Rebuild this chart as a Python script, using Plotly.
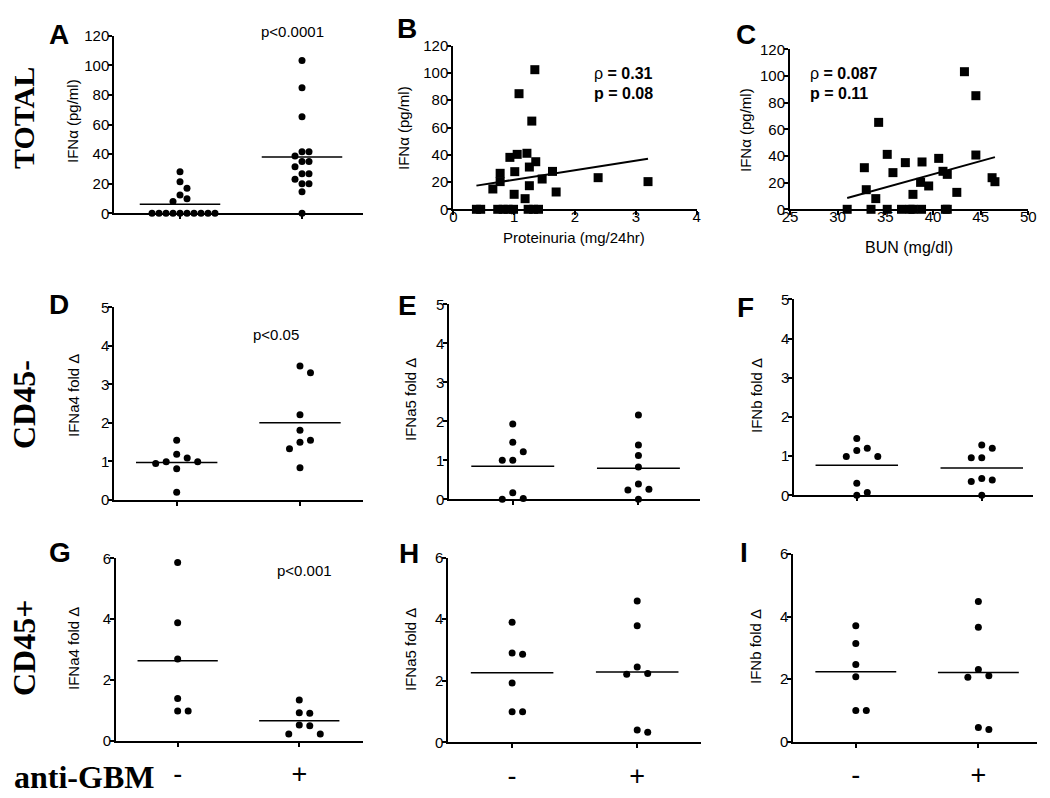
import numpy as np
import plotly.graph_objects as go

# The page body has an 8 px margin, so the figure is 16 px smaller than the window
OFF = 8
W, H = 1050 - 2 * OFF, 798 - 2 * OFF
SANS = "Liberation Sans, Arial, sans-serif"
SERIF = "Liberation Serif, Times New Roman, serif"

# ---------------- data ----------------
groups = ["-", "+"]

# Panel A : total IFN-alpha (pg/ml)
a_neg = [28.1, 21.4, 16.9, 12.4, 9.8, 7.9, 0, 0, 0, 0, 0, 0, 0, 0, 0, 0]
a_pos = [103.2, 84.9, 65.3, 41.6, 41.6, 38.7, 35.0, 35.0, 31.5, 26.8, 26.8, 23.0, 20.0, 20.0, 14.6, 0]

# Panel B : proteinuria vs IFN-alpha
prot_x = [1.34, 1.08, 1.29, 0.93, 1.05, 1.21, 1.355, 1.25, 1.01, 0.77, 1.63, 1.46, 0.77, 0.65,
          1.25, 1.00, 1.18, 1.69, 2.38, 3.20, 0.38, 0.45, 0.73, 0.82, 0.90, 0.99, 1.23, 1.32, 1.40]
prot_y = [102.4, 84.8, 64.7, 38.1, 40.3, 41.1, 34.9, 31.0, 27.6, 26.4, 27.8, 22.2, 20.3, 14.9,
          17.3, 11.0, 7.8, 12.7, 23.2, 20.3, 0, 0, 0, 0, 0, 0, 0, 0, 0]

# Panel C : BUN vs IFN-alpha
bun_x = [43.3, 44.5, 34.3, 35.2, 32.8, 37.1, 38.85, 40.6, 44.5, 35.8, 41.05, 41.5, 38.7, 39.55,
         33.0, 37.9, 34.0, 42.5, 46.2, 46.5, 31.0, 33.5, 35.2, 36.7, 37.6, 37.9, 38.8, 41.3, 41.5]
bun_y = [103.2, 85.2, 65.2, 41.2, 31.2, 35.0, 35.5, 38.2, 40.7, 27.5, 28.5, 26.2, 20.2, 17.5,
         14.7, 11.2, 8.0, 12.7, 23.7, 20.7, 0, 0, 0, 0, 0, 0, 0, 0, 0]

# CD45- fold changes
d_neg = [1.55, 1.19, 1.09, 0.99, 0.99, 0.95, 0.81, 0.20]
d_pos = [3.48, 3.30, 2.21, 1.81, 1.55, 1.50, 1.33, 0.84]
e_neg = [1.93, 1.46, 1.22, 1.00, 1.00, 0.17, 0.02, 0.00]
e_pos = [2.16, 1.39, 1.12, 0.83, 0.39, 0.26, 0.24, 0.00]
f_neg = [1.45, 1.20, 1.14, 0.99, 0.99, 0.31, 0.07, 0.00]
f_pos = [1.28, 1.20, 0.96, 0.96, 0.43, 0.39, 0.35, 0.00]

# CD45+ fold changes
g_neg = [5.86, 3.88, 2.69, 1.39, 0.98, 0.98]
g_pos = [1.34, 0.92, 0.90, 0.52, 0.49, 0.22, 0.22]
h_neg = [3.90, 2.90, 2.86, 1.93, 0.99, 0.99]
h_pos = [4.59, 3.79, 2.45, 2.24, 2.21, 0.40, 0.33]
i_neg = [3.71, 3.14, 2.47, 2.08, 1.00, 1.00]
i_pos = [4.48, 3.66, 2.31, 2.11, 2.06, 0.45, 0.39]

# ---------------- helpers ----------------
fig = go.Figure()


def fx(px):
    return (px - OFF) / W


def fy(py):
    return 1 - (py - OFF) / H


def ax_names(i):
    return ("x" if i == 1 else f"x{i}"), ("y" if i == 1 else f"y{i}")


def setup_axes(i, xpx, ypx, xr, yr, xtv, xtt, ytv, xlabfont=15, xstand=-11):
    xn, yn = ax_names(i)
    common = dict(showline=True, linewidth=2, linecolor="black", ticks="outside",
                  ticklen=4, tickwidth=2, tickcolor="black", showgrid=False,
                  zeroline=False, fixedrange=True, automargin=False)
    xa = dict(domain=[fx(xpx[0]), fx(xpx[1])], range=xr, anchor=yn,
              tickvals=xtv, ticktext=xtt, ticklabelstandoff=xstand,
              tickfont=dict(family=SANS, size=xlabfont, color="black"), **common)
    ya = dict(domain=[fy(ypx[1]), fy(ypx[0])], range=yr, anchor=xn,
              tickvals=ytv, ticklabelstandoff=-4,
              tickfont=dict(family=SANS, size=15, color="black"), **common)
    fig.layout["xaxis" if i == 1 else f"xaxis{i}"] = xa
    fig.layout["yaxis" if i == 1 else f"yaxis{i}"] = ya
    return (xpx[1] - xpx[0]) / (xr[1] - xr[0]), (ypx[1] - ypx[0]) / (yr[1] - yr[0])


def swarm(vals, ppy, ppx, step):
    order = sorted(range(len(vals)), key=lambda k: -vals[k])
    placed, offs = [], [0.0] * len(vals)
    cands = [0] + [s * j for j in range(1, 30) for s in (1, -1)]
    for k in order:
        yv = vals[k] * ppy
        for c in cands:
            xv = c * step
            if all((xv - px) ** 2 + (yv - py) ** 2 >= (step * 0.999) ** 2 for px, py in placed):
                break
        placed.append((xv, yv))
        offs[k] = xv / ppx
    return offs


def dot_panel(i, xpx, ypx, xr, yr, ytv, neg, pos, step=10.5, bottom=False):
    if bottom:
        ppx, ppy = setup_axes(i, xpx, ypx, xr, yr, [1, 2], groups, ytv, xlabfont=27, xstand=4)
    else:
        ppx, ppy = setup_axes(i, xpx, ypx, xr, yr, [1, 2], ["", ""], ytv)
    xn, yn = ax_names(i)
    for c, vals in ((1, neg), (2, pos)):
        offs = swarm(vals, ppy, ppx, step)
        fig.add_trace(go.Scatter(x=[c + o for o in offs], y=vals, mode="markers",
                                 marker=dict(symbol="circle", size=7, color="black"),
                                 xaxis=xn, yaxis=yn, cliponaxis=False, hoverinfo="skip"))
        m = float(np.mean(vals))
        fig.add_trace(go.Scatter(x=[c - 0.33, c + 0.33], y=[m, m], mode="lines",
                                 line=dict(color="black", width=1.5),
                                 xaxis=xn, yaxis=yn, cliponaxis=False, hoverinfo="skip"))


def corr_panel(i, xpx, ypx, xr, xtv, xs, ys):
    setup_axes(i, xpx, ypx, xr, [0, 120], xtv, [str(v) for v in xtv], list(range(0, 121, 20)))
    xn, yn = ax_names(i)
    fig.add_trace(go.Scatter(x=xs, y=ys, mode="markers",
                             marker=dict(symbol="square", size=9, color="black"),
                             xaxis=xn, yaxis=yn, cliponaxis=False, hoverinfo="skip"))
    sl, ic = np.polyfit(xs, ys, 1)
    lx = [min(xs), max(xs)]
    fig.add_trace(go.Scatter(x=lx, y=[sl * v + ic for v in lx], mode="lines",
                             line=dict(color="black", width=2),
                             xaxis=xn, yaxis=yn, cliponaxis=False, hoverinfo="skip"))


# ---------------- panels (positions in window pixels) ----------------
tA = list(range(0, 121, 20))
dot_panel(1, (114.3, 363), (35.7, 213.3), [0.4615, 2.5], [0, 120], tA, a_neg, a_pos, step=7)
corr_panel(2, (453.3, 696.7), (45.7, 209.3), [0, 4], [0, 1, 2, 3, 4], prot_x, prot_y)
corr_panel(3, (790, 1028.3), (49.3, 209.3), [25, 50], [25, 30, 35, 40, 45, 50], bun_x, bun_y)

t5 = [0, 1, 2, 3, 4, 5]
dot_panel(4, (114.3, 363), (307.3, 500), [0.494, 2.511], [0, 5], t5, d_neg, d_pos)
dot_panel(5, (449.3, 700), (304.3, 499.3), [0.495, 2.49], [0, 5], t5, e_neg, e_pos)
dot_panel(6, (794.3, 1033), (299.3, 495.3), [0.5, 2.41], [0, 5], t5, f_neg, f_pos)

t6 = [0, 2, 4, 6]
dot_panel(7, (116, 363), (558.3, 740.7), [0.493, 2.524], [0, 6], t6, g_neg, g_pos, bottom=True)
dot_panel(8, (448.3, 701), (557.7, 742.3), [0.49, 2.51], [0, 6], t6, h_neg, h_pos, bottom=True)
dot_panel(9, (793.3, 1036.7), (554, 741.7), [0.49, 2.476], [0, 6], t6, i_neg, i_pos, bottom=True)

# ---------------- text ----------------
ann = []


def txt(x, y, s, size=15, family=SANS, weight="normal", angle=0, xanchor="center"):
    ann.append(dict(x=fx(x), y=fy(y), xref="paper", yref="paper", text=s, showarrow=False,
                    xanchor=xanchor, yanchor="middle", textangle=angle,
                    font=dict(family=family, size=size, color="black", weight=weight)))


letters = [("A", 58.5, 35), ("B", 406.5, 29), ("C", 746, 34), ("D", 58.5, 304),
           ("E", 407, 305), ("F", 745, 308), ("G", 59.5, 552), ("H", 409, 553), ("I", 744, 552)]
for s, x, y in letters:
    txt(x, y, s, size=28, weight="bold")

txt(24, 118, "TOTAL", size=30, family=SERIF, weight="bold", angle=-90)
txt(24, 405, "CD45-", size=32, family=SERIF, weight="bold", angle=-90)
txt(24, 648, "CD45+", size=32, family=SERIF, weight="bold", angle=-90)
txt(84, 777, "anti-GBM", size=32, family=SERIF, weight="bold")

ytitles = [("IFNα (pg/ml)", 73, 121), ("IFNα (pg/ml)", 404, 128), ("IFNα (pg/ml)", 745, 130),
           ("IFNa4 fold Δ", 73, 396), ("IFNa5 fold Δ", 410, 400), ("IFNb fold Δ", 756, 396),
           ("IFNa4 fold Δ", 73, 649), ("IFNa5 fold Δ", 410, 650), ("IFNb fold Δ", 755, 647)]
for s, x, y in ytitles:
    txt(x, y, s, size=15, angle=-90)

txt(574, 237, "Proteinuria (mg/24hr)", size=15)
txt(909, 247, "BUN (mg/dl)", size=16)

txt(292.5, 32, "p<0.0001", size=15)
txt(276, 335, "p<0.05", size=15)
txt(304, 570, "p<0.001", size=15)

txt(591.7, 73, "ρ <b>= 0.31</b>", size=16, xanchor="left")
txt(591.7, 93, "<b>p = 0.08</b>", size=16, xanchor="left")
txt(808.3, 73, "ρ <b>= 0.087</b>", size=16, xanchor="left")
txt(808.3, 93, "<b>p = 0.11</b>", size=16, xanchor="left")

fig.update_layout(width=W, height=H,
                  margin=dict(l=0, r=0, t=0, b=0, pad=0, autoexpand=False),
                  paper_bgcolor="white", plot_bgcolor="white", showlegend=False,
                  annotations=ann)

fig.write_html("out.html")
